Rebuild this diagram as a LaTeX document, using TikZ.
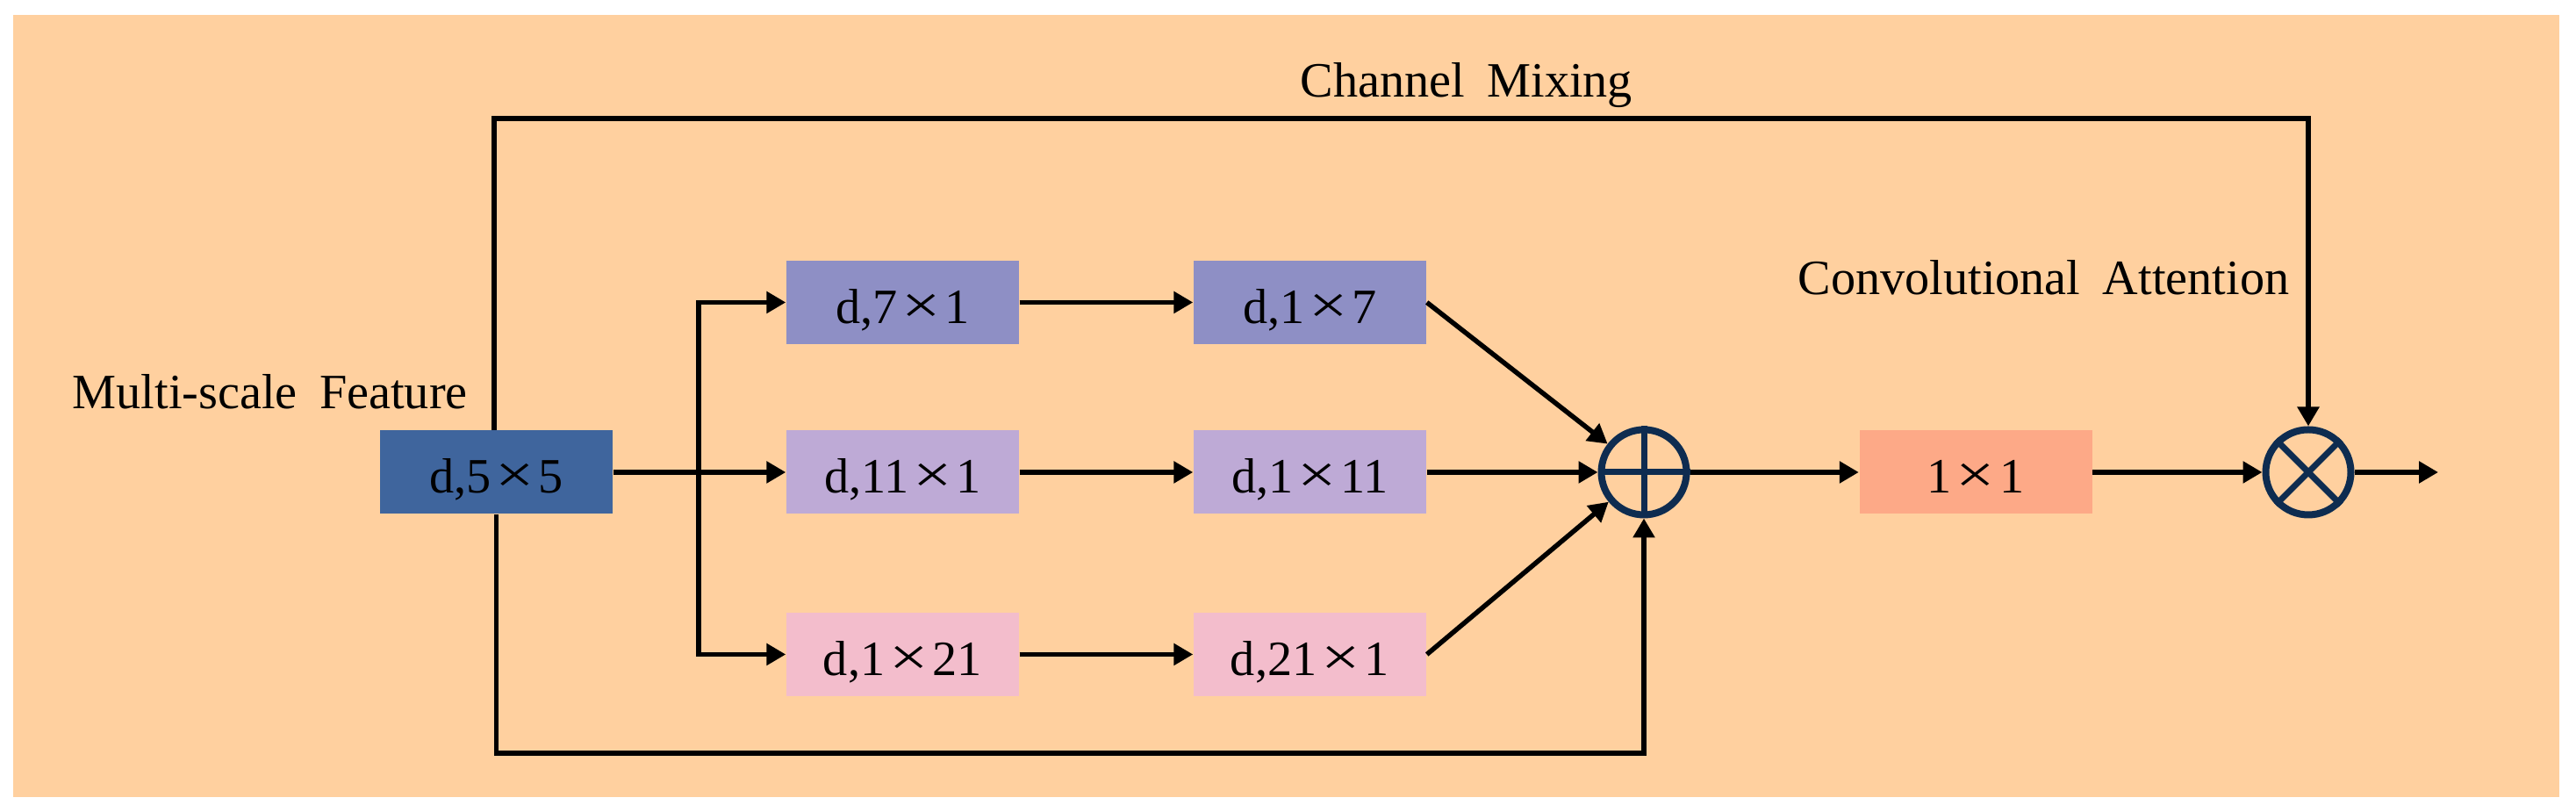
\documentclass[tikz,border=0pt]{standalone}
\usepackage{graphicx}
\usepackage{fontspec}
\setmainfont{Liberation Serif}
\usetikzlibrary{arrows.meta}

\definecolor{bgpeach}{RGB}{255,208,159}
\definecolor{darkblk}{RGB}{63,101,157}
\definecolor{violetblk}{RGB}{142,143,197}
\definecolor{lilacblk}{RGB}{190,170,214}
\definecolor{pinkblk}{RGB}{243,189,204}
\definecolor{salmonblk}{RGB}{253,169,135}
\definecolor{opblue}{RGB}{14,44,80}

\newcommand{\by}{\hspace{0.09em}\scalebox{1.4}[1.1]{×}\hspace{0.09em}}
\newcommand{\gap}{\hspace{0.45em}}

\begin{document}
\begin{tikzpicture}[
	>={Triangle[length=0.22cm, width=0.24cm]},
	conn/.style={->, line width=0.055cm},
	blk/.style={minimum width=2.65cm, minimum height=0.95cm, inner sep=0pt, text height=0.54cm, text depth=0.06cm, font=\fontsize{16}{19}\selectfont},
	op/.style={circle, draw=opblue, line width=0.08cm, minimum size=0.97cm, inner sep=0pt},
	lbl/.style={anchor=base west, inner sep=0pt, font=\fontsize{16}{19}\selectfont}]
	\useasboundingbox (0,0) rectangle (29.35,9.25);
	\fill[bgpeach] (0.15,0.17) rectangle (29.16,9.08);

	% blocks
	\node[blk, fill=darkblk] (d55) at (5.655,3.87) {d,5\by 5};
	\node[blk, fill=violetblk] (a1) at (10.285,5.805) {d,7\by 1};
	\node[blk, fill=violetblk] (a2) at (14.925,5.805) {d,1\by 7};
	\node[blk, fill=lilacblk] (b1) at (10.285,3.87) {d,11\by 1};
	\node[blk, fill=lilacblk] (b2) at (14.925,3.87) {d,1\by 11};
	\node[blk, fill=pinkblk] (c1) at (10.285,1.795) {d,1\by 21};
	\node[blk, fill=pinkblk] (c2) at (14.925,1.795) {d,21\by 1};
	\node[op] (plus) at (18.73,3.87) {};
	\node[blk, fill=salmonblk] (pw) at (22.51,3.87) {1\by 1};
	\node[op] (times) at (26.30,3.87) {};
	\draw[opblue, line width=0.07cm] (plus.north) -- (plus.south) (plus.west) -- (plus.east);
	\draw[opblue, line width=0.07cm] (times.north east) -- (times.south west) (times.north west) -- (times.south east);

	% labels
	\node[lbl] (msf) at (0.82,4.59) {Multi-scale\gap Feature};
	\node[lbl] (cmx) at (14.81,8.14) {Channel\gap Mixing};
	\node[lbl] (cat) at (20.48,5.89) {Convolutional\gap Attention};

	% connectors
	\coordinate (br) at (7.96,3.87);
	\coordinate (tl) at (5.63,7.90);
	\coordinate (bl) at (5.655,0.67);
	\coordinate (out) at (27.78,3.87);
	\draw[conn] (d55) -- (b1);
	\draw[conn] (br) |- (a1);
	\draw[conn] (br) |- (c1);
	\draw[conn] (a1) -- (a2);
	\draw[conn] (b1) -- (b2);
	\draw[conn] (c1) -- (c2);
	\draw[conn] (a2.east) -- (plus);
	\draw[conn] (b2) -- (plus);
	\draw[conn] (c2.east) -- (plus);
	\draw[conn] (plus) -- (pw);
	\draw[conn] (pw) -- (times);
	\draw[conn] (times) -- (out);
	\draw[conn] (d55.north -| tl) -- (tl) -| (times);
	\draw[conn] (d55.south) -- (bl) -| (plus);
\end{tikzpicture}
\end{document}
